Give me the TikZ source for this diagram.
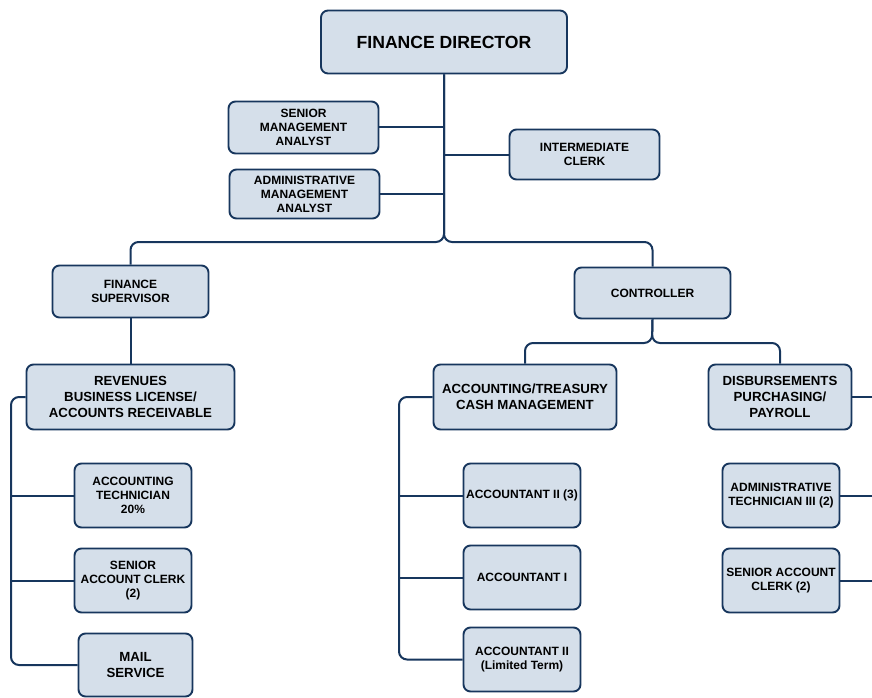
\documentclass[tikz,border=0pt]{standalone}
\usepackage{fontspec}
\setmainfont{Liberation Sans}
\definecolor{navy}{RGB}{23,54,93}
\definecolor{paleblue}{RGB}{213,223,234}
\begin{document}
\begin{tikzpicture}[x=1pt,y=-1pt]
\newcommand{\smallfont}{\bfseries\fontsize{12}{14}\selectfont}
\newcommand{\bigfont}{\bfseries\fontsize{13.25}{16}\selectfont}
\newcommand{\posbox}{\node[draw=navy, fill=paleblue, rounded corners=7pt, line width=1.9pt, align=center, inner sep=0pt]}
\tikzset{every path/.style={line width=2pt, draw=navy}}
\path[use as bounding box, draw=none] (0,0) rectangle (872,698);

    % top level
    \posbox[minimum width=246, minimum height=63, font=\bfseries\fontsize{17.6}{20}\selectfont] (dir) at (444,42) {FINANCE DIRECTOR};
    \posbox[minimum width=150, minimum height=52, font=\smallfont] (sma) at (303.5,127.5) {SENIOR\\MANAGEMENT\\ANALYST};
    \posbox[minimum width=150, minimum height=49, font=\smallfont] (ama) at (304.5,194) {ADMINISTRATIVE\\MANAGEMENT\\ANALYST};
    \posbox[minimum width=150, minimum height=50, font=\smallfont] (ic) at (584.5,154.5) {INTERMEDIATE\\CLERK};
    \coordinate (dirbus) at (444,242);

    \draw (sma.east) -- (sma.east -| dir.south);
    \draw (ama.east) -- (ama.east -| dir.south);
    \draw (ic.west) -- (ic.west -| dir.south);

    % second level
    \posbox[minimum width=156, minimum height=52, font=\smallfont] (fs) at (130.5,291.5) {FINANCE\\SUPERVISOR};
    \posbox[minimum width=156, minimum height=51, font=\smallfont] (ctl) at (652.5,293) {CONTROLLER};
    \draw[rounded corners=8pt] (dir.south) -- (dirbus) -| (fs.north);
    \draw[rounded corners=8pt] (dir.south) -- (dirbus) -| (ctl.north);

    % finance supervisor side
    \posbox[minimum width=208, minimum height=65, font=\bigfont] (rev) at (130.5,397) {REVENUES\\BUSINESS LICENSE/\\ACCOUNTS RECEIVABLE};
    \posbox[minimum width=117, minimum height=64, font=\smallfont] (at) at (133,495.5) {ACCOUNTING\\TECHNICIAN\\20\%};
    \posbox[minimum width=117, minimum height=64, font=\smallfont] (sac) at (133,580.5) {SENIOR\\ACCOUNT CLERK\\(2)};
    \posbox[minimum width=114, minimum height=63, font=\bigfont] (mail) at (135.5,665) {MAIL\\SERVICE};
    \coordinate (revbus) at (11,397);
    \draw (fs.south) -- (rev.north);
    \draw[rounded corners=8pt] (rev.west) -- (rev.west -| revbus) |- (mail.west);
    \draw (at.west) -- (at.west -| revbus);
    \draw (sac.west) -- (sac.west -| revbus);

    % controller side
    \coordinate (ctlbus) at (652,343);
    \posbox[minimum width=183, minimum height=65, font=\bigfont] (acct) at (525,397) {ACCOUNTING/TREASURY\\CASH MANAGEMENT};
    \posbox[minimum width=143, minimum height=65, font=\bigfont] (disb) at (780,397) {DISBURSEMENTS\\PURCHASING/\\PAYROLL};
    \draw[rounded corners=8pt] (ctl.south) -- (ctlbus) -| (acct.north);
    \draw[rounded corners=8pt] (ctl.south) -- (ctlbus) -| (disb.north);

    \posbox[minimum width=117, minimum height=64, font=\smallfont] (a2) at (522,495.5) {ACCOUNTANT II (3)};
    \posbox[minimum width=117, minimum height=64, font=\smallfont] (a1) at (522,577.5) {ACCOUNTANT I};
    \posbox[minimum width=117, minimum height=64, font=\smallfont] (a2lt) at (522,659.5) {ACCOUNTANT II\\(Limited Term)};
    \coordinate (acctbus) at (399,392);
    \draw[rounded corners=8pt] (acct.west) -- (acct.west -| acctbus) |- (a2lt.west);
    \draw (a2.west) -- (a2.west -| acctbus);
    \draw (a1.west) -- (a1.west -| acctbus);

    \posbox[minimum width=117, minimum height=64, font=\smallfont] (adt) at (781,495.5) {ADMINISTRATIVE\\TECHNICIAN III (2)};
    \posbox[minimum width=117, minimum height=64, font=\smallfont] (sac2) at (781,580.5) {SENIOR ACCOUNT\\CLERK (2)};
    \coordinate (edge) at (880,0);
    \draw (disb.east) -- (disb.east -| edge);
    \draw (adt.east) -- (adt.east -| edge);
    \draw (sac2.east) -- (sac2.east -| edge);
\end{tikzpicture}
\end{document}
